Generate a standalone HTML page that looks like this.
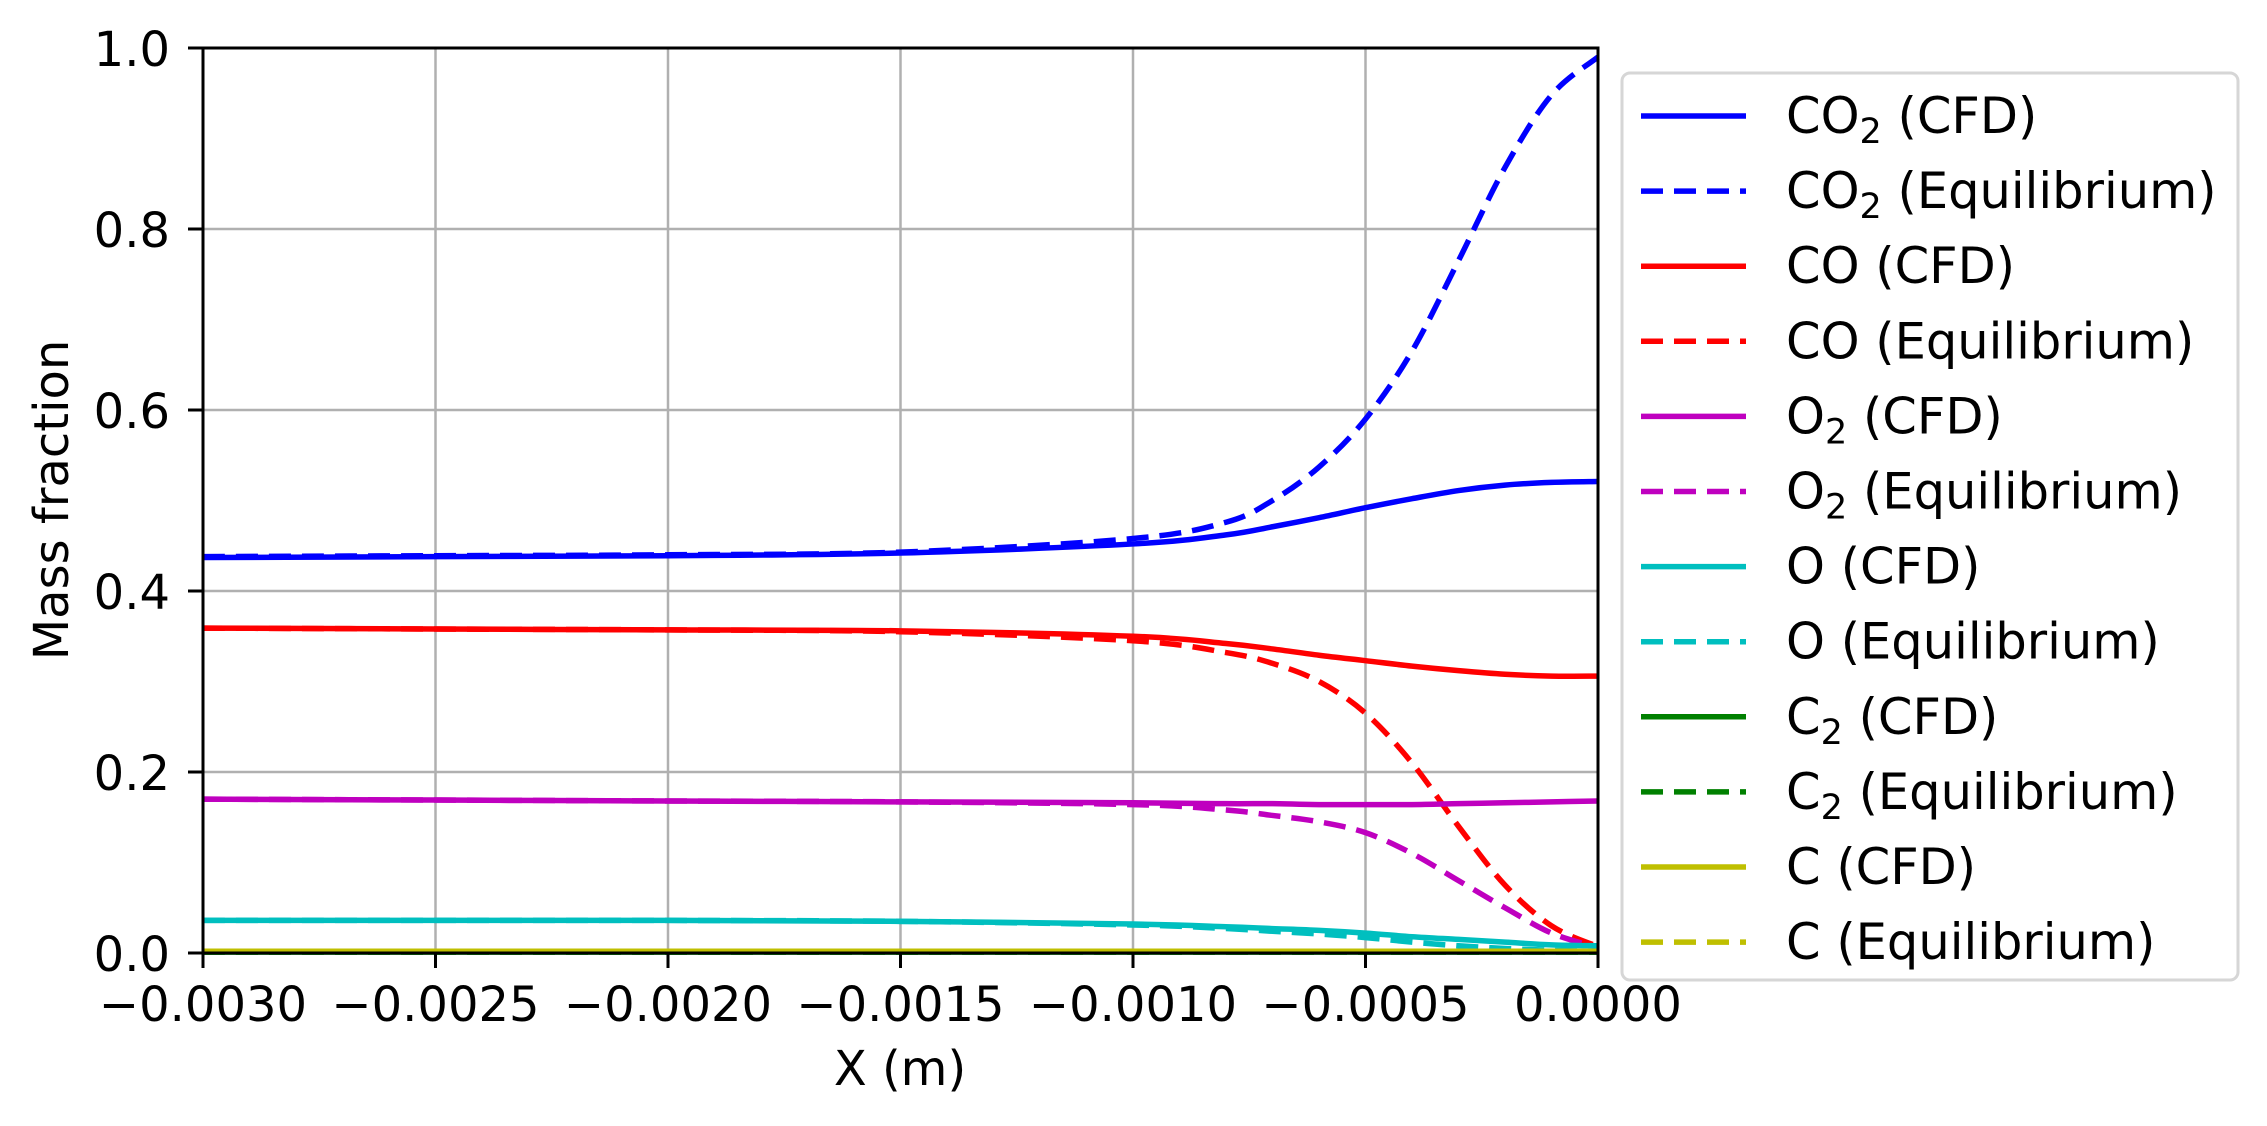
<!DOCTYPE html>
<html><head><meta charset="utf-8">
<style>
html,body{margin:0;padding:0;background:#fff;}
svg{display:block;font-family:"DejaVu Sans","Liberation Sans",sans-serif;}
</style></head>
<body>
<svg id="chart" width="2267" height="1126" viewBox="0 0 2267 1126" xmlns="http://www.w3.org/2000/svg">
<rect x="0" y="0" width="2267" height="1126" fill="#fff"/>
<g id="grid"></g>
<g id="series"></g>
<g id="axes"></g>
<text x="0" y="0" font-size="48" text-anchor="middle" transform="translate(68,500) rotate(-90)">Mass fraction</text>
<text x="900" y="1085" font-size="48" text-anchor="middle">X (m)</text>
<g id="legend"></g>
</svg>
<script>
const xValues = [-0.003,-0.0025,-0.002,-0.0015,-0.001,-0.0008,-0.0007,-0.0006,-0.0005,-0.0004,-0.0003,-0.0002,-0.0001,0];
const co2Cfd = [0.437,0.438,0.439,0.442,0.452,0.462,0.471,0.481,0.492,0.502,0.511,0.517,0.520,0.521];
const co2Eq  = [0.438,0.439,0.440,0.443,0.458,0.476,0.500,0.537,0.590,0.665,0.765,0.868,0.948,0.990];
const coCfd  = [0.359,0.358,0.357,0.356,0.350,0.342,0.336,0.329,0.323,0.317,0.312,0.308,0.306,0.306];
const coEq   = [0.359,0.358,0.357,0.355,0.345,0.332,0.320,0.300,0.265,0.210,0.140,0.075,0.030,0.007];
const o2Cfd  = [0.170,0.169,0.168,0.167,0.166,0.165,0.165,0.164,0.164,0.164,0.165,0.166,0.167,0.168];
const o2Eq   = [0.170,0.169,0.168,0.167,0.164,0.158,0.152,0.145,0.133,0.110,0.080,0.050,0.022,0.006];
const oCfd   = [0.036,0.036,0.036,0.035,0.032,0.029,0.027,0.025,0.022,0.018,0.015,0.012,0.009,0.008];
const oEq    = [0.036,0.036,0.036,0.035,0.031,0.027,0.024,0.021,0.017,0.012,0.008,0.005,0.003,0.002];
const c2Cfd  = [0.001,0.001,0.001,0.001,0.001,0.001,0.001,0.001,0.001,0.001,0.001,0.001,0.001,0.001];
const c2Eq   = [0.001,0.001,0.001,0.001,0.001,0.001,0.001,0.001,0.001,0.001,0.001,0.001,0.001,0.001];
const cCfd   = [0.002,0.002,0.002,0.002,0.002,0.002,0.002,0.002,0.002,0.002,0.002,0.002,0.002,0.002];
const cEq    = [0.002,0.002,0.002,0.002,0.002,0.002,0.002,0.002,0.002,0.002,0.002,0.002,0.002,0.002];
const xTicks = [-0.003,-0.0025,-0.002,-0.0015,-0.001,-0.0005,0];
const xTickLabels = ["\u22120.0030","\u22120.0025","\u22120.0020","\u22120.0015","\u22120.0010","\u22120.0005","0.0000"];
const yTicks = [0,0.2,0.4,0.6,0.8,1.0];
const yTickLabels = ["0.0","0.2","0.4","0.6","0.8","1.0"];

const NS="http://www.w3.org/2000/svg";
const L=203,R=1598,T=48,B=953;
const xMin=-0.003,xMax=0,yMin=0,yMax=1;
function sx(v){return L+(v-xMin)/(xMax-xMin)*(R-L);}
function sy(v){return B-(v-yMin)/(yMax-yMin)*(B-T);}
function mk(tag,parent,attrs){const e=document.createElementNS(NS,tag);for(const k in attrs)e.setAttribute(k,attrs[k]);parent.appendChild(e);return e;}

const grid=document.getElementById('grid');
xTicks.forEach((t,i)=>{
  const g=mk('line',grid,{x1:sx(t),x2:sx(t),y1:T,y2:B,stroke:'#b0b0b0','stroke-width':2.5});
  
  
});
yTicks.forEach((t,i)=>{
  const g=mk('line',grid,{x1:L,x2:R,y1:sy(t),y2:sy(t),stroke:'#b0b0b0','stroke-width':2.5});
  
  
});

function pathD(xs,ys){
  const p=xs.map((x,i)=>[sx(x),sy(ys[i])]);
  let d='M'+p[0][0]+','+p[0][1];
  for(let i=0;i<p.length-1;i++){
    const p0=p[Math.max(0,i-1)],p1=p[i],p2=p[i+1],p3=p[Math.min(p.length-1,i+2)];
    const c1x=p1[0]+(p2[0]-p0[0])/6,c1y=p1[1]+(p2[1]-p0[1])/6;
    const c2x=p2[0]-(p3[0]-p1[0])/6,c2y=p2[1]-(p3[1]-p1[1])/6;
    d+=' C'+c1x+','+c1y+' '+c2x+','+c2y+' '+p2[0]+','+p2[1];
  }
  return d;
}
const seriesDefs=[
  {name:'co2-cfd',data:co2Cfd,color:'#0000ff',dash:false,label:['CO','2',' (CFD)']},
  {name:'co2-equilibrium',data:co2Eq,color:'#0000ff',dash:true,label:['CO','2',' (Equilibrium)']},
  {name:'co-cfd',data:coCfd,color:'#ff0000',dash:false,label:['CO','',' (CFD)']},
  {name:'co-equilibrium',data:coEq,color:'#ff0000',dash:true,label:['CO','',' (Equilibrium)']},
  {name:'o2-cfd',data:o2Cfd,color:'#bf00bf',dash:false,label:['O','2',' (CFD)']},
  {name:'o2-equilibrium',data:o2Eq,color:'#bf00bf',dash:true,label:['O','2',' (Equilibrium)']},
  {name:'o-cfd',data:oCfd,color:'#00bfbf',dash:false,label:['O','',' (CFD)']},
  {name:'o-equilibrium',data:oEq,color:'#00bfbf',dash:true,label:['O','',' (Equilibrium)']},
  {name:'c2-cfd',data:c2Cfd,color:'#008000',dash:false,label:['C','2',' (CFD)']},
  {name:'c2-equilibrium',data:c2Eq,color:'#008000',dash:true,label:['C','2',' (Equilibrium)']},
  {name:'c-cfd',data:cCfd,color:'#bfbf00',dash:false,label:['C','',' (CFD)']},
  {name:'c-equilibrium',data:cEq,color:'#bfbf00',dash:true,label:['C','',' (Equilibrium)']}
];
const sg=document.getElementById('series');
const clip=mk('clipPath',mk('defs',sg,{}),{id:'plotclip'});
mk('rect',clip,{x:L,y:T-3,width:R-L+2,height:B-T+5});
seriesDefs.forEach(s=>{
  const p=mk('path',sg,{d:pathD(xValues,s.data),fill:'none',stroke:s.color,'stroke-width':5.5,'clip-path':'url(#plotclip)'});
  if(s.dash)p.setAttribute('stroke-dasharray','22 11');
  
  
});

const ax=document.getElementById('axes');
mk('rect',ax,{x:L,y:T,width:R-L,height:B-T,fill:'none',stroke:'#000','stroke-width':3});
xTicks.forEach((t,i)=>{
  mk('line',ax,{x1:sx(t),x2:sx(t),y1:B,y2:B+15,stroke:'#000','stroke-width':3});
  const tx=mk('text',ax,{x:sx(t),y:1021,'font-size':48,'text-anchor':'middle'});
  tx.textContent=xTickLabels[i];
  
  
});
yTicks.forEach((t,i)=>{
  mk('line',ax,{x1:L-15,x2:L,y1:sy(t),y2:sy(t),stroke:'#000','stroke-width':3});
  const ty=mk('text',ax,{x:170,y:sy(t)+18,'font-size':48,'text-anchor':'end'});
  ty.textContent=yTickLabels[i];
  
  
});

const lg=document.getElementById('legend');
const box=mk('rect',lg,{x:1622,y:73,width:616,height:907,rx:8,fill:'#fff',stroke:'#d6d6d6','stroke-width':3});


seriesDefs.forEach((s,i)=>{
  const y=116+i*75.1;
  const g=mk('g',lg,{});
  
  
  const ln=mk('line',g,{x1:1641,x2:1746,y1:y,y2:y,stroke:s.color,'stroke-width':5.5});
  if(s.dash)ln.setAttribute('stroke-dasharray','22 11');
  const t=mk('text',g,{x:1786,y:y+17,'font-size':49.5});
  t.appendChild(document.createTextNode(s.label[0]));
  if(s.label[1]){const sub=mk('tspan',t,{dy:10,'font-size':35});sub.textContent=s.label[1];const r=mk('tspan',t,{dy:-10});r.textContent=s.label[2];}
  else t.appendChild(document.createTextNode(s.label[2]));
});
</script>
</body></html>
